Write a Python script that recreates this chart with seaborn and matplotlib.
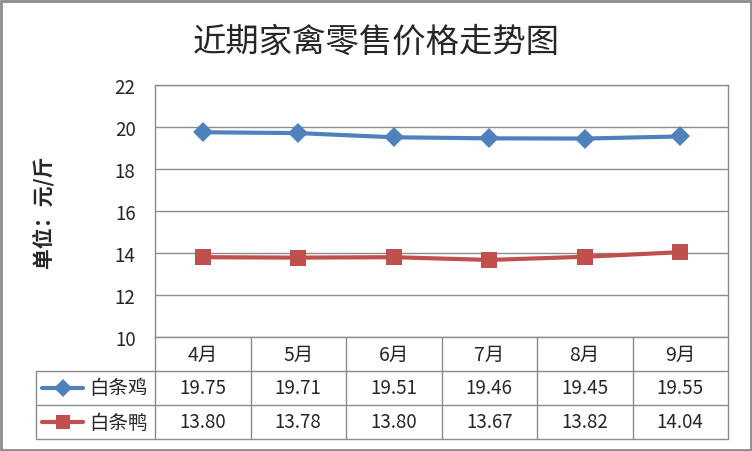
import matplotlib
matplotlib.use('Agg')
import matplotlib.pyplot as plt
import seaborn as sns
import pandas as pd
from matplotlib.lines import Line2D
from matplotlib.patches import Rectangle

months = ["4月", "5月", "6月", "7月", "8月", "9月"]
chicken = [19.75, 19.71, 19.51, 19.46, 19.45, 19.55]
duck = [13.80, 13.78, 13.80, 13.67, 13.82, 14.04]
series_names = ["白条鸡", "白条鸭"]
colors = ["#4F81BD", "#C0504D"]
markers = ["D", "s"]

df = pd.DataFrame({
    "月份": months * 2,
    "价格": chicken + duck,
    "品种": [series_names[0]] * 6 + [series_names[1]] * 6,
})
df["x"] = list(range(6)) * 2

sns.set_style("white")
plt.rcParams['font.family'] = ['Noto Sans CJK SC', 'DejaVu Sans']

W, H = 752, 452
fig = plt.figure(figsize=(W / 100, H / 100), dpi=100)
L, R, T, B = 155, 728, 86, 338
ax = fig.add_axes([L / W, 1 - B / H, (R - L) / W, (B - T) / H])

for name, c, m in zip(series_names, colors, markers):
    sub = df[df["品种"] == name]
    sns.lineplot(data=sub, x="x", y="价格", ax=ax, color=c, lw=3,
                 marker=m, markersize=10.5 if m == "D" else 12,
                 markeredgewidth=0, legend=False)

ax.set_xlim(-0.5, 5.5)
ax.set_ylim(10, 22)
ax.set_yticks(range(10, 23, 2))
ax.set_xticks([])
ax.set_xlabel("")
ax.set_ylabel("单位：元/斤", fontsize=15, fontweight='bold', labelpad=44)
ax.tick_params(axis='y', labelsize=13.5, length=0, pad=14)
ax.grid(axis='y', color="#8C8C8C", lw=1)
for s in ax.spines.values():
    s.set_color("#8C8C8C")
    s.set_linewidth(1)

fig.suptitle("近期家禽零售价格走势图", y=1 - 42 / H, va='center', fontsize=24)


def px(x, y):
    return (x / W, 1 - y / H)


def hline(y, x0, x1):
    fig.add_artist(Line2D([x0 / W, x1 / W], [1 - y / H, 1 - y / H],
                          color="#8C8C8C", lw=1, transform=fig.transFigure))


def vline(x, y0, y1):
    fig.add_artist(Line2D([x / W, x / W], [1 - y0 / H, 1 - y1 / H],
                          color="#8C8C8C", lw=1, transform=fig.transFigure))


# data table under the plot
colw = (R - L) / len(months)
rows = [B, 372, 406, 440]
for k in range(len(months) + 1):
    vline(L + k * colw, B, rows[-1])
vline(36, rows[1], rows[-1])
for y in rows[1:]:
    hline(y, 36, R)

for k, mth in enumerate(months):
    cx = L + (k + 0.5) * colw
    fig.text(*px(cx, (rows[0] + rows[1]) / 2), mth, ha='center', va='center', fontsize=14)
    for r, vals in enumerate([chicken, duck]):
        fig.text(*px(cx, (rows[r + 1] + rows[r + 2]) / 2), f"{vals[k]:.2f}",
                 ha='center', va='center', fontsize=13.5)

for r, (name, c, m) in enumerate(zip(series_names, colors, markers)):
    cy = (rows[r + 1] + rows[r + 2]) / 2
    x0, y0 = px(42, cy)
    x1, _ = px(83, cy)
    fig.add_artist(Line2D([x0, x1], [y0, y0], color=c, lw=3, transform=fig.transFigure))
    fig.add_artist(Line2D([(x0 + x1) / 2], [y0], color=c, marker=m,
                          markersize=9 if m == "D" else 10.5,
                          markeredgewidth=0, transform=fig.transFigure))
    fig.text(*px(89, cy), name, ha='left', va='center', fontsize=14)

# outer frame
fig.add_artist(Rectangle((1 / W, 1 / H), (W - 2.5) / W, (H - 2.5) / H, fill=False,
                         edgecolor="#8C8C8C", lw=2, transform=fig.transFigure))

fig.savefig("out.png", dpi=100)
